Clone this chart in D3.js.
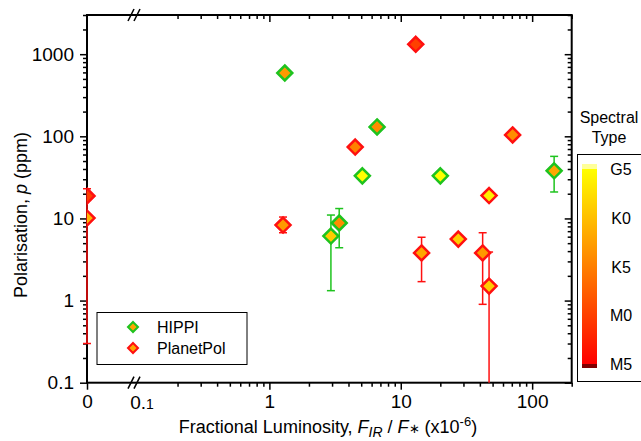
<!DOCTYPE html>
<html>
<head>
<meta charset="utf-8">
<script src="https://cdn.jsdelivr.net/npm/d3@7"></script>
<style>
    body { margin: 0; background: #fff; }
    text { font-family: "Liberation Sans", Arial, sans-serif; fill: #000; }
</style>
</head>
<body>
<div id="chart"></div>
<script>
// HIPPI measurements
const hippiLum  = [1.31, 6.6, 5.1, 20, 147, 3.4, 2.94];
const hippiPol  = [590, 130, 33, 33, 38, 8.8, 6.1];
const hippiLo   = [null, null, null, null, 21, 4.4, 1.32];
const hippiHi   = [null, null, null, null, 57, 13.2, 11.0];
const hippiType = ["K3", "K4", "G5", "G5", "K2", "K4", "G9"];

// PlanetPol measurements
const ppLum  = [0, 0, 1.27, 4.5, 13, 71, 47, 14.4, 27.4, 42, 47];
const ppPol  = [18.8, 10.1, 8.3, 74, 1320, 104, 19, 3.8, 5.6, 3.8, 1.5];
const ppLo   = [0.3, null, 6.7, null, null, null, null, 1.7, null, 0.9, 0.05];
const ppHi   = [23, null, 10.4, null, null, null, null, 5.9, null, 6.7, 3.9];
const ppType = ["M0", "K1", "K3", "K5", "M0", "K4", "G6", "K2", "G9", "K3", "G9"];

const yTicks = [0.1, 1, 10, 100, 1000];
const xTicks = [1, 10, 100];
const specLabels = ["G5", "K0", "K5", "M0", "M5"];

const width = 641, height = 441;
const plotL = 87, plotR = 571.7, plotT = 15, plotB = 382.7;

const svg = d3.select("#chart").append("svg")
    .attr("width", width)
    .attr("height", height);

const xLog = d3.scaleLog().domain([0.1, 200]).range([138, plotR]);
const xZero = d3.scaleLinear().domain([0, 0.05]).range([plotL, 112]);
const x = v => v === 0 ? xZero(0) : xLog(v);
const y = d3.scaleLog().domain([0.1, 3000]).range([plotB, plotT]);

// spectral type -> index (G5 = 0, K0 = 5, K5 = 10, M0 = 15, M5 = 20)
function specIndex(s) {
    const base = { G: -5, K: 5, M: 15 };
    return base[s[0]] + (+s.slice(1));
}
const color = d3.scaleLinear().domain([0, 20]).range(["#ffff00", "#ff0000"]);

function minors(lo, hi) {
    const out = [];
    for (let e = lo; e < hi; e++)
        for (let k = 2; k <= 9; k++) out.push(k * Math.pow(10, e));
    return out;
}
const yMinor = minors(-1, 4).filter(v => v <= 3000);
const xMinor = minors(-1, 3).filter(v => v <= 200);

function styleAxis(g) {
    g.select(".domain").remove();
    g.selectAll("line").attr("stroke", "#000").attr("stroke-width", 1.5);
    g.selectAll("text").style("font-size", "19px").attr("fill", "#000");
}

// left axis (outward ticks)
svg.append("g").attr("transform", `translate(${plotL},0)`)
    .call(d3.axisLeft(y).tickValues(yTicks).tickSize(7).tickPadding(6)
        .tickFormat(d => d >= 1 ? d3.format("d")(d) : "0.1"))
    .call(styleAxis);
svg.append("g").attr("transform", `translate(${plotL},0)`)
    .call(d3.axisLeft(y).tickValues(yMinor).tickSize(4).tickFormat(""))
    .call(styleAxis);

// right axis (inward ticks)
svg.append("g").attr("transform", `translate(${plotR},0)`)
    .call(d3.axisLeft(y).tickValues(yTicks).tickSize(7).tickFormat(""))
    .call(styleAxis);
svg.append("g").attr("transform", `translate(${plotR},0)`)
    .call(d3.axisLeft(y).tickValues(yMinor).tickSize(4).tickFormat(""))
    .call(styleAxis);

// bottom axis (outward ticks)
svg.append("g").attr("transform", `translate(0,${plotB})`)
    .call(d3.axisBottom(xLog).tickValues(xTicks).tickSize(7).tickPadding(5)
        .tickFormat(d3.format("d")))
    .call(styleAxis);
svg.append("g").attr("transform", `translate(0,${plotB})`)
    .call(d3.axisBottom(xLog).tickValues(xMinor.filter(v => v > 0.1)).tickSize(4).tickFormat(""))
    .call(styleAxis);
svg.append("g").attr("transform", `translate(0,${plotB})`)
    .call(d3.axisBottom(xZero).tickValues([0]).tickSize(7).tickPadding(5).tickFormat(d3.format("d")))
    .call(styleAxis);

// "0.1" label right after the break
const lbl01 = svg.append("text")
    .attr("x", 142).attr("y", plotB + 26)
    .attr("text-anchor", "middle")
    .style("font-size", "19px");
lbl01.append("tspan").text("0.");
lbl01.append("tspan").style("font-size", "14px").text("1");

// top axis (inward ticks)
svg.append("g").attr("transform", `translate(0,${plotT})`)
    .call(d3.axisBottom(xLog).tickValues(xTicks).tickSize(7).tickFormat(""))
    .call(styleAxis);
svg.append("g").attr("transform", `translate(0,${plotT})`)
    .call(d3.axisBottom(xLog).tickValues(xMinor.filter(v => v > 0.1)).tickSize(4).tickFormat(""))
    .call(styleAxis);

// frame
svg.append("rect")
    .attr("x", plotL).attr("y", plotT)
    .attr("width", plotR - plotL).attr("height", plotB - plotT)
    .attr("fill", "none").attr("stroke", "#000").attr("stroke-width", 2);

// axis break marks
[plotT, plotB].forEach(yy => {
    [131, 137].forEach(xx => {
        svg.append("line")
            .attr("x1", xx - 3).attr("y1", yy + 6)
            .attr("x2", xx + 3).attr("y2", yy - 6)
            .attr("stroke", "#000").attr("stroke-width", 1.5);
    });
});

// data
function rows(lum, pol, lo, hi, type) {
    return lum.map((v, i) => ({ lum: v, pol: pol[i], lo: lo[i], hi: hi[i], type: type[i] }));
}
const series = [
    { name: "HIPPI", edge: "#1ec31e", rows: rows(hippiLum, hippiPol, hippiLo, hippiHi, hippiType) },
    { name: "PlanetPol", edge: "#ff1010", rows: rows(ppLum, ppPol, ppLo, ppHi, ppType) }
];

svg.append("clipPath").attr("id", "plotClip")
    .append("rect")
    .attr("x", plotL).attr("y", plotT)
    .attr("width", plotR - plotL).attr("height", plotB - plotT);

const diamond = r => `M0,${-r}L${r},0L0,${r}L${-r},0Z`;

series.forEach(s => {
    const withErr = s.rows.filter(d => d.lo != null);
    const eg = svg.append("g");
    eg.selectAll("line.bar").data(withErr).enter().append("line")
        .attr("x1", d => x(d.lum)).attr("x2", d => x(d.lum))
        .attr("y1", d => y(d.hi)).attr("y2", d => Math.min(y(Math.max(d.lo, 0.1)), plotB))
        .attr("stroke", s.edge).attr("stroke-width", 1.5);
    eg.selectAll("line.capHi").data(withErr).enter().append("line")
        .attr("x1", d => x(d.lum) - 4).attr("x2", d => x(d.lum) + 4)
        .attr("y1", d => y(d.hi)).attr("y2", d => y(d.hi))
        .attr("stroke", s.edge).attr("stroke-width", 1.5);
    eg.selectAll("line.capLo").data(withErr.filter(d => d.lo >= 0.1)).enter().append("line")
        .attr("x1", d => x(d.lum) - 4).attr("x2", d => x(d.lum) + 4)
        .attr("y1", d => y(d.lo)).attr("y2", d => y(d.lo))
        .attr("stroke", s.edge).attr("stroke-width", 1.5);
});

series.forEach(s => {
    svg.append("g").attr("clip-path", "url(#plotClip)")
        .selectAll("path").data(s.rows).enter().append("path")
        .attr("d", diamond(7.5))
        .attr("transform", d => `translate(${x(d.lum)},${y(d.pol)})`)
        .attr("fill", d => color(specIndex(d.type)))
        .attr("stroke", s.edge)
        .attr("stroke-width", 2.5);
});

// legend
const leg = svg.append("g");
leg.append("rect")
    .attr("x", 97).attr("y", 312.5).attr("width", 150).attr("height", 52)
    .attr("fill", "#fff").attr("stroke", "#000").attr("stroke-width", 1);
series.forEach((s, i) => {
    const ly = 327 + i * 21;
    leg.append("path")
        .attr("d", diamond(5))
        .attr("transform", `translate(133,${ly})`)
        .attr("fill", "#ffa500").attr("stroke", s.edge).attr("stroke-width", 2);
    leg.append("text")
        .attr("x", 157).attr("y", ly + 6)
        .style("font-size", "16px")
        .text(s.name);
});

// colour scale legend
const cb = svg.append("g");
cb.append("text").attr("x", 609).attr("y", 123).attr("text-anchor", "middle")
    .style("font-size", "16px").text("Spectral");
cb.append("text").attr("x", 609).attr("y", 143).attr("text-anchor", "middle")
    .style("font-size", "16px").text("Type");
cb.append("rect")
    .attr("x", 577.5).attr("y", 154.5).attr("width", 80).attr("height", 227)
    .attr("fill", "#fff").attr("stroke", "#000").attr("stroke-width", 1);

const cy = d3.scaleLinear().domain([0, 20]).range([169, 364]);
const grad = svg.append("defs").append("linearGradient")
    .attr("id", "specGrad").attr("x1", 0).attr("x2", 0).attr("y1", 0).attr("y2", 1);
grad.append("stop").attr("offset", "0%").attr("stop-color", color(0));
grad.append("stop").attr("offset", "100%").attr("stop-color", color(20));

cb.append("rect").attr("x", 582).attr("y", 164).attr("width", 15).attr("height", cy(0) - 164)
    .attr("fill", "#ffff99");
cb.append("rect").attr("x", 582).attr("y", cy(0)).attr("width", 15).attr("height", cy(20) - cy(0))
    .attr("fill", "url(#specGrad)");
cb.append("rect").attr("x", 582).attr("y", cy(20)).attr("width", 15).attr("height", 4)
    .attr("fill", "#800000");
cb.selectAll("text.lab").data(specLabels).enter().append("text")
    .attr("x", 621).attr("y", (d, i) => cy(i * 5) + 6)
    .attr("text-anchor", "middle")
    .style("font-size", "16px")
    .text(d => d);

// axis titles
const xt = svg.append("text")
    .attr("x", 328).attr("y", 433)
    .attr("text-anchor", "middle")
    .style("font-size", "18px");
xt.append("tspan").text("Fractional Luminosity, ");
xt.append("tspan").style("font-style", "italic").text("F");
xt.append("tspan").style("font-style", "italic").style("font-size", "14px").attr("dy", 4).text("IR");
xt.append("tspan").attr("dy", -4).text(" / ");
xt.append("tspan").style("font-style", "italic").text("F");
xt.append("tspan").style("font-size", "13px").text("\u2217");
xt.append("tspan").text(" (x10");
xt.append("tspan").style("font-size", "13px").attr("dy", -7).text("-6");
xt.append("tspan").attr("dy", 7).text(")");

const yt = svg.append("text")
    .attr("transform", "translate(27,215) rotate(-90)")
    .attr("text-anchor", "middle")
    .style("font-size", "18px");
yt.append("tspan").text("Polarisation, ");
yt.append("tspan").style("font-style", "italic").text("p");
yt.append("tspan").text(" (ppm)");
</script>
</body>
</html>
